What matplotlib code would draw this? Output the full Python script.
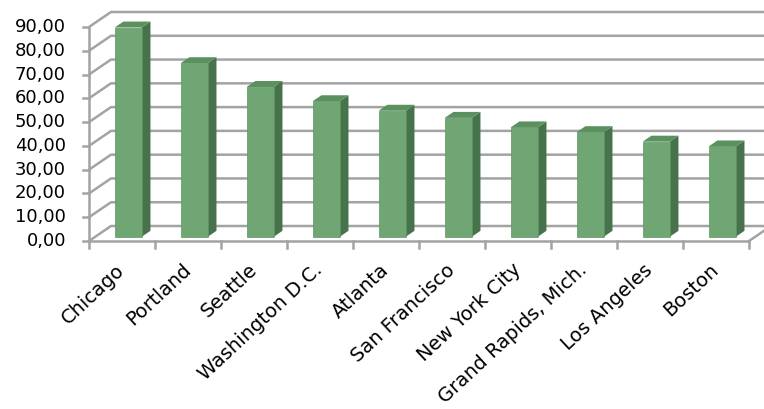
import matplotlib.pyplot as plt
from matplotlib.patches import Polygon

cities = ["Chicago", "Portland", "Seattle", "Washington D.C.", "Atlanta",
          "San Francisco", "New York City", "Grand Rapids, Mich.",
          "Los Angeles", "Boston"]
values = [88, 73, 63, 57, 53, 50, 46, 44, 40, 38]
yticks = [0, 10, 20, 30, 40, 50, 60, 70, 80, 90]
ytick_labels = ["%d,00" % v for v in yticks]

# oblique depth offset of the 3D box (in data units)
DX, DY = 0.333, 6.3
Z0, Z1 = 0.28, 0.68      # bar depth range
BAR_W = 0.41

front_c = "#6fa673"
side_c = "#46734b"
top_c = "#5a915e"
grid_c = "#a3a3a3"


def proj(x, y, z):
    return (x + z * DX, y + z * DY)


fig = plt.figure(figsize=(7.64, 4.09), dpi=100)
ax = fig.add_axes([0, 0, 1, 1])
ax.set_xlim(-89 / 66, (764 - 89) / 66)
ax.set_ylim(-168 / 2.378, (409 - 168) / 2.378)
ax.axis("off")

n = len(cities)

# gridlines: side wall diagonals + back wall horizontals
for v in yticks:
    p0 = proj(0, v, 0)
    p1 = proj(0, v, 1)
    p2 = proj(n, v, 1)
    ax.plot([p0[0], p1[0], p2[0]], [p0[1], p1[1], p2[1]],
            color=grid_c, lw=1.8, solid_capstyle="butt", zorder=1)

# floor right edge
p0 = proj(n, 0, 0)
p1 = proj(n, 0, 1)
ax.plot([p0[0], p1[0]], [p0[1], p1[1]], color=grid_c, lw=1.8, zorder=1)

# front value axis with ticks
ax.plot([0, 0], [0, 90], color=grid_c, lw=1.8, zorder=3)
for v, lab in zip(yticks, ytick_labels):
    ax.plot([-0.09, 0], [v, v], color=grid_c, lw=1.8, zorder=3)
    ax.text(-0.35, v, lab, ha="right", va="center", fontsize=13,
            color="#000000")

# front category axis with ticks
ax.plot([0, n], [0, 0], color=grid_c, lw=1.8, zorder=3)
for i in range(n + 1):
    ax.plot([i, i], [0, -3], color=grid_c, lw=1.8, zorder=3)

# bars
for i, (city, v) in enumerate(zip(cities, values)):
    x0 = i + 0.5 - BAR_W / 2
    x1 = i + 0.5 + BAR_W / 2
    front = [proj(x0, 0, Z0), proj(x1, 0, Z0), proj(x1, v, Z0), proj(x0, v, Z0)]
    side = [proj(x1, 0, Z0), proj(x1, 0, Z1), proj(x1, v, Z1), proj(x1, v, Z0)]
    top = [proj(x0, v, Z0), proj(x1, v, Z0), proj(x1, v, Z1), proj(x0, v, Z1)]
    ax.add_patch(Polygon(side, closed=True, fc=side_c, ec="none", zorder=2))
    ax.add_patch(Polygon(top, closed=True, fc=top_c, ec="none", zorder=2))
    ax.add_patch(Polygon(front, closed=True, fc=front_c, ec="#5f9463",
                         lw=0.5, zorder=2))
    ax.text(i + 0.5, -11, city, rotation=43, rotation_mode="anchor",
            ha="right", va="center", fontsize=14, color="#000000")

fig.savefig("out.png", dpi=100)
